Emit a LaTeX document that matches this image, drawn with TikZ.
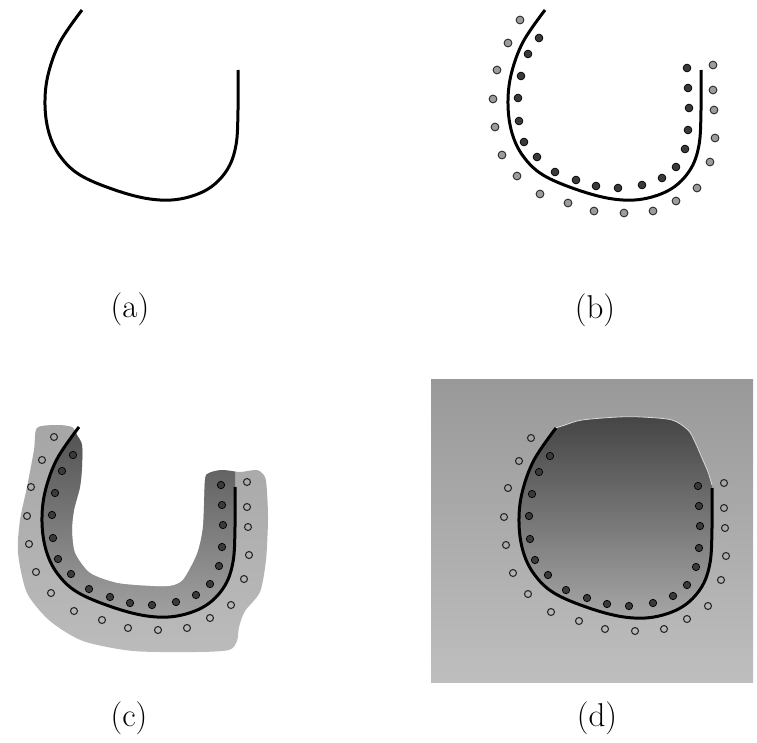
\documentclass[tikz,border=0pt]{standalone}
\usepackage{tikz}
\definecolor{dotdark}{HTML}{3A3A3A}
\definecolor{dotgrey}{HTML}{9C9C9C}
\definecolor{ringcol}{HTML}{2A2A2A}
\definecolor{bandtop}{HTML}{A6A6A6}
\definecolor{bandbot}{HTML}{BBBBBB}
\definecolor{armtop}{HTML}{505050}
\definecolor{armbot}{HTML}{B0B0B0}
\definecolor{bgtop}{HTML}{999999}
\definecolor{bgbot}{HTML}{BEBEBE}
\definecolor{blobtop}{HTML}{454545}
\definecolor{blobbot}{HTML}{A6A6A6}
\definecolor{rimcol}{HTML}{DADADA}
\newcommand\ucurve{plot[smooth,tension=0.6] coordinates {(82,10) (60,42) (48,75) (45,105) (49,133) (60,156) (80,175) (115,190) (150,199) (180,199) (208,189) (227,170) (236,145) (238,110) (238,70)}}
\newcommand\ublob{plot[smooth cycle,tension=0.45] coordinates {(40,11) (60,8) (75,10) (80,18) (85,28) (85,50) (83,70) (77,93) (75,113) (78,136) (93,156) (120,166) (153,169) (173,169) (186,163) (200,137) (206,110) (208,63) (212,56) (225,53) (243,55) (260,53) (268,60) (270,75) (271,103) (269,143) (263,175) (248,194) (242,210) (240,224) (232,233) (200,235) (136,234) (86,224) (53,204) (30,176) (21,136) (23,103) (30,70) (37,33)}}
\def\innerlist{76/38,65/54,58/76,55/98,56/121,61/142,74/157,92/172,113/180,133/186,155/188,179/185,199/178,213/167,222/149,225/130,226/108,225/88,224/68}
\def\outerlist{57/20,45/43,34/70,30/99,32/127,39/155,54/176,77/194,105/203,131/211,161/213,190/211,213/201,234/188,247/162,252/138,251/110,250/90,250/65}
\tikzset{
  ustroke/.style={line width=3pt, black},
  indot/.style={fill=dotdark, draw=black, line width=0.7pt},
  greydot/.style={fill=dotgrey, draw=ringcol, line width=0.9pt},
  ring/.style={draw=ringcol, line width=1.1pt},
  caption/.style={inner sep=0pt, font=\fontsize{33}{36}\selectfont}
}
\begin{document}
\begin{tikzpicture}[x=1pt,y=-1pt]
\useasboundingbox (0,0) rectangle (757,742);
% (a)
\draw[ustroke] \ucurve;
\node[caption] (la) at (130,309) {(a)};
% (b)
\begin{scope}[shift={(463,0)}]
  \draw[ustroke] \ucurve;
  \foreach \x/\y in \innerlist {\filldraw[indot] (\x,\y) circle (3.9);}
  \foreach \x/\y in \outerlist {\filldraw[greydot] (\x,\y) circle (3.9);}
\end{scope}
\node[caption] (lb) at (595,310) {(b)};
% (c)
\begin{scope}[shift={(-3,417)}]
  \shade[top color=bandtop, bottom color=bandbot] \ublob;
  \begin{scope}
    \clip \ucurve -- (238,-20) -- (82,-20) -- cycle;
    \shade[top color=armtop, bottom color=armbot] \ublob;
  \end{scope}
  \draw[ustroke] \ucurve;
  \foreach \x/\y in \innerlist {\filldraw[indot] (\x,\y) circle (3.7);}
  \foreach \x/\y in \outerlist {\draw[ring] (\x,\y) circle (3.5);}
\end{scope}
\node[caption] (lc) at (129,718) {(c)};
% (d)
\shade[top color=bgtop, bottom color=bgbot] (431,379) rectangle (753,682);
\begin{scope}[shift={(474,418)}]
  \shade[top color=blobtop, bottom color=blobbot] \ucurve -- plot[smooth,tension=0.5] coordinates {(238,67) (234,54) (228,40) (221,24) (214,12) (198,2) (168,-1) (144,-1) (108,2) (91,7) (82,10)} -- cycle;
  \draw[rimcol, line width=0.8pt] plot[smooth,tension=0.5] coordinates {(238,67) (234,54) (228,40) (221,24) (214,12) (198,2) (168,-1) (144,-1) (108,2) (91,7) (82,10)};
  \draw[ustroke] \ucurve;
  \foreach \x/\y in \innerlist {\filldraw[indot] (\x,\y) circle (3.7);}
  \foreach \x/\y in \outerlist {\draw[ring] (\x,\y) circle (3.5);}
\end{scope}
\node[caption] (ld) at (597,718) {(d)};
\end{tikzpicture}
\end{document}
